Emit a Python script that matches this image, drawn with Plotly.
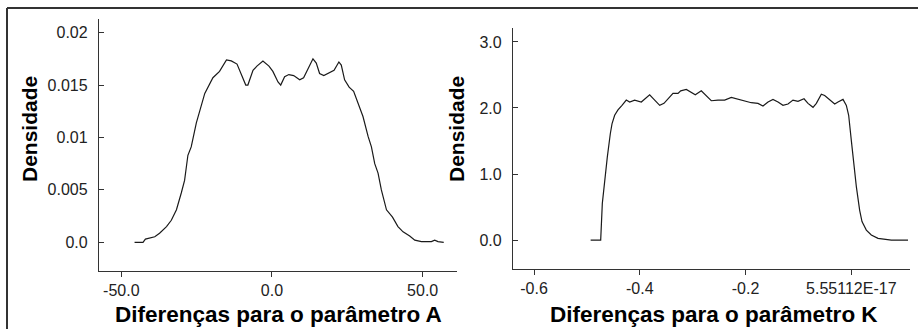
import plotly.graph_objects as go

# ---- data: parameter A differences (left panel) ----
a_x = [-45.6, -42.8, -42.0, -38.9, -37.3, -35.0, -33.4, -31.7, -30.1, -29.0, -27.9, -26.8,
       -25.1, -23.7, -22.3, -19.6, -17.4, -15.1, -13.5, -11.6, -10.2, -8.7, -8.0, -6.3,
       -5.0, -3.0, -1.0, 0.3, 2.0, 2.9, 4.2, 5.6, 7.2, 9.2, 10.5, 12.0, 13.6, 14.7, 15.8,
       17.2, 19.2, 20.6, 22.2, 23.0, 24.1, 25.6, 27.1, 28.5, 30.2, 31.9, 33.0, 34.1, 35.2,
       36.3, 38.0, 40.0, 41.8, 43.5, 45.7, 47.4, 49.6, 52.9, 54.0, 55.1, 57.0]
a_y = [0.0, 0.0, 0.0003, 0.00053, 0.00086, 0.0015, 0.0021, 0.0031, 0.0047, 0.0059, 0.0083,
       0.0091, 0.0114, 0.0129, 0.0142, 0.0157, 0.0163, 0.0174, 0.0173, 0.0170, 0.0160, 0.0150,
       0.0150, 0.0164, 0.0168, 0.0173, 0.0168, 0.0163, 0.0153, 0.0150, 0.0158, 0.0160, 0.0159,
       0.0155, 0.0157, 0.0166, 0.0175, 0.0171, 0.0161, 0.0159, 0.0162, 0.0164, 0.0172, 0.0169,
       0.0155, 0.0148, 0.0144, 0.0133, 0.0120, 0.0101, 0.0091, 0.0075, 0.0066, 0.0050, 0.0031,
       0.0024, 0.0015, 0.0010, 0.0006, 0.0002, 0.00006, 0.00006, 0.0002, 0.00006, 0.0]

# ---- data: parameter K differences (right panel) ----
k_x = [-0.4929, -0.4739, -0.4708, -0.4664, -0.4614, -0.4557, -0.4525, -0.4475, -0.4412,
       -0.4336, -0.4255, -0.4191, -0.4097, -0.3971, -0.3896, -0.3813, -0.3718, -0.3623,
       -0.3542, -0.3466, -0.3372, -0.3277, -0.3226, -0.3120, -0.3026, -0.2950, -0.2837,
       -0.2742, -0.2648, -0.2521, -0.2395, -0.2269, -0.2143, -0.2016, -0.1891, -0.1765,
       -0.1670, -0.1575, -0.1481, -0.1386, -0.1292, -0.1197, -0.1103, -0.1008, -0.0894,
       -0.0819, -0.0724, -0.0661, -0.0567, -0.0504, -0.0409, -0.0314, -0.0252, -0.0157,
       -0.0094, -0.0050, 0.0, 0.0051, 0.0095, 0.0158, 0.0202, 0.0284, 0.0378, 0.0505,
       0.0631, 0.0757, 0.1072]
k_y = [0.0, 0.0, 0.555, 0.908, 1.255, 1.61, 1.76, 1.89, 1.97, 2.04, 2.12, 2.09, 2.12, 2.09,
       2.14, 2.20, 2.12, 2.04, 2.07, 2.14, 2.22, 2.22, 2.26, 2.28, 2.24, 2.20, 2.26, 2.19,
       2.11, 2.12, 2.12, 2.16, 2.13, 2.10, 2.08, 2.07, 2.03, 2.09, 2.13, 2.09, 2.04, 2.06,
       2.12, 2.10, 2.14, 2.07, 2.01, 2.07, 2.21, 2.19, 2.12, 2.06, 2.09, 2.13, 2.04, 1.89,
       1.51, 1.11, 0.81, 0.45, 0.28, 0.15, 0.076, 0.025, 0.01, 0.0, 0.0]

# ---- tick labels ----
a_xticks = [-50, 0, 50]
a_xticktext = ["-50.0", "0.0", "50.0"]
a_yticks = [0, 0.005, 0.01, 0.015, 0.02]
a_yticktext = ["0.0", "0.005", "0.01", "0.015", "0.02"]
k_xticks = [-0.6, -0.4, -0.2, 5.55112e-17]
k_xticktext = ["-0.6", "-0.4", "-0.2", "5.55112E-17"]
k_yticks = [0, 1, 2, 3]
k_yticktext = ["0.0", "1.0", "2.0", "3.0"]

W, H = 918, 329
FONT = "Liberation Sans, Arial, sans-serif"
AX = "#333333"

fig = go.Figure()
fig.add_trace(go.Scatter(x=a_x, y=a_y, mode="lines", line=dict(color="#1a1a1a", width=1.2),
                         xaxis="x", yaxis="y", showlegend=False, hoverinfo="skip"))
fig.add_trace(go.Scatter(x=k_x, y=k_y, mode="lines", line=dict(color="#1a1a1a", width=1.2),
                         xaxis="x2", yaxis="y2", showlegend=False, hoverinfo="skip"))

common_x = dict(showline=True, linecolor=AX, linewidth=1.3, ticks="outside", ticklen=5,
                tickcolor=AX, tickwidth=1.3, showgrid=False, zeroline=False,
                tickfont=dict(family=FONT, size=16, color="#222"), fixedrange=True)
common_y = dict(showline=True, linecolor=AX, linewidth=1.3, ticks="inside", ticklen=5,
                tickcolor=AX, tickwidth=1.3, showgrid=False, zeroline=False,
                tickfont=dict(family=FONT, size=16, color="#222"), fixedrange=True,
                ticklabelstandoff=7)

fig.update_layout(
    width=W, height=H, autosize=False,
    margin=dict(l=0, r=0, t=0, b=0),
    paper_bgcolor="white", plot_bgcolor="white",
    xaxis=dict(domain=[99 / W, 457 / W], range=[-57.4, 61.4], anchor="y",
               tickvals=a_xticks, ticktext=a_xticktext, **common_x),
    yaxis=dict(domain=[1 - 270.7 / H, 1 - 19 / H], range=[-0.00271, 0.0213], anchor="x",
               tickvals=a_yticks, ticktext=a_yticktext, **common_y),
    xaxis2=dict(domain=[513 / W, 909.7 / W], range=[-0.6397, 0.1104], anchor="y2",
                tickvals=k_xticks, ticktext=k_xticktext, **common_x),
    yaxis2=dict(domain=[1 - 268.7 / H, 1 - 28.3 / H], range=[-0.434, 3.207], anchor="x2",
                tickvals=k_yticks, ticktext=k_yticktext, **common_y),
    shapes=[
        dict(type="line", xref="paper", yref="paper", x0=7 / W, x1=1, y0=1 - 8 / H, y1=1 - 8 / H,
             line=dict(color=AX, width=2)),
        dict(type="line", xref="paper", yref="paper", x0=7 / W, x1=7 / W, y0=0, y1=1 - 8 / H,
             line=dict(color=AX, width=2)),
    ],
)

title_font = dict(family=FONT, size=22.5, color="black")
ytitle_font = dict(family=FONT, size=21, color="black")
annots = [
    dict(text="<b>Diferenças para o parâmetro A</b>", x=278 / W, y=1 - 314 / H,
         xanchor="center", yanchor="middle", font=title_font),
    dict(text="<b>Diferenças para o parâmetro K</b>", x=714 / W, y=1 - 314 / H,
         xanchor="center", yanchor="middle", font=title_font),
    dict(text="<b>Densidade</b>", x=29 / W, y=1 - 129 / H, textangle=-90,
         xanchor="center", yanchor="middle", font=ytitle_font),
    dict(text="<b>Densidade</b>", x=456 / W, y=1 - 129 / H, textangle=-90,
         xanchor="center", yanchor="middle", font=ytitle_font),
]
for a in annots:
    fig.add_annotation(xref="paper", yref="paper", showarrow=False, **a)

fig.write_html("out.html", config={"displayModeBar": False},
               post_script="document.body.style.margin='0';document.body.style.overflow='hidden';")
